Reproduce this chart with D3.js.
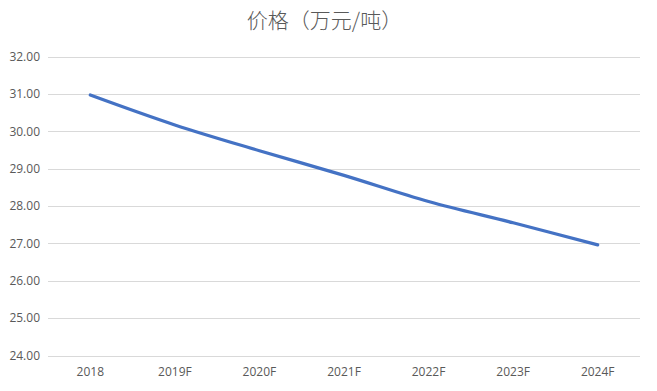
<!DOCTYPE html>
<html>
<head>
<meta charset="utf-8">
<script src="https://cdn.jsdelivr.net/npm/d3@7"></script>
<style>
  body { margin: 0; background: #fff; }
  #chart { width: 657px; height: 391px; }
</style>
</head>
<body>
<div id="chart"></div>
<script>
const TITLE = '价格（万元/吨）';
const categories = ['2018', '2019F', '2020F', '2021F', '2022F', '2023F', '2024F'];
const prices = [30.97, 30.17, 29.48, 28.82, 28.12, 27.55, 26.96];
const yTicks = [24, 25, 26, 27, 28, 29, 30, 31, 32];

const width = 657, height = 391;
const margin = { top: 56.5, right: 17, bottom: 35.5, left: 48 };

const svg = d3.select('#chart').append('svg')
  .attr('width', width)
  .attr('height', height);

const x = d3.scaleBand()
  .domain(categories)
  .range([margin.left, width - margin.right]);

const y = d3.scaleLinear()
  .domain([24, 32])
  .range([height - margin.bottom, margin.top]);

// gridlines
svg.append('g')
  .selectAll('line')
  .data(yTicks)
  .join('line')
  .attr('x1', margin.left)
  .attr('x2', width - margin.right)
  .attr('y1', d => Math.round(y(d)) + 0.5)
  .attr('y2', d => Math.round(y(d)) + 0.5)
  .attr('stroke', '#d9d9d9')
  .attr('stroke-width', 1);

// y axis labels
const yAxis = svg.append('g')
  .attr('transform', `translate(${margin.left}, 0)`)
  .call(d3.axisLeft(y).tickValues(yTicks).tickFormat(d3.format('.2f')).tickSize(0).tickPadding(8));
yAxis.select('.domain').remove();
yAxis.selectAll('text')
  .style('font-family', '"Open Sans", "Noto Sans", sans-serif')
  .style('font-size', '12px')
  .attr('fill', '#595959');

// x axis labels
const xAxis = svg.append('g')
  .attr('transform', `translate(0, ${height - margin.bottom})`)
  .call(d3.axisBottom(x).tickSize(0).tickPadding(12));
xAxis.select('.domain').remove();
xAxis.selectAll('text')
  .style('font-family', '"Open Sans", "Noto Sans", sans-serif')
  .style('font-size', '12px')
  .attr('fill', '#595959');

// line
const line = d3.line()
  .x((d, i) => x(categories[i]) + x.bandwidth() / 2)
  .y(d => y(d))
  .curve(d3.curveCatmullRom.alpha(0.5));

svg.append('path')
  .datum(prices)
  .attr('d', line)
  .attr('fill', 'none')
  .attr('stroke', '#4472c4')
  .attr('stroke-width', 3.2)
  .attr('stroke-linecap', 'round');

// title
svg.append('text')
  .attr('x', width / 2 - 4)
  .attr('y', 28)
  .attr('text-anchor', 'middle')
  .style('font-family', '"Noto Sans CJK SC", sans-serif')
  .style('font-size', '21px')
  .style('font-weight', 300)
  .attr('fill', '#595959')
  .text(TITLE);
</script>
</body>
</html>
